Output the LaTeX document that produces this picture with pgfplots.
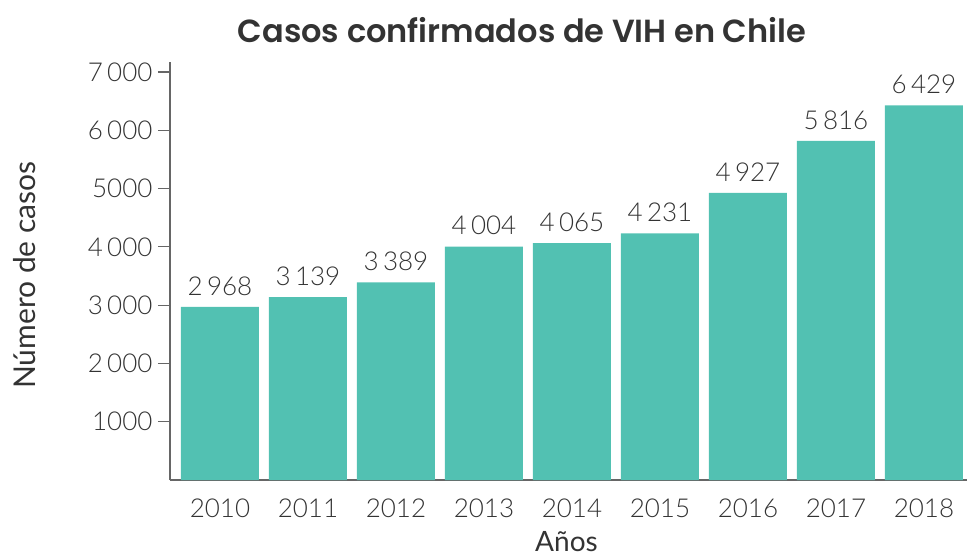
\documentclass[border=0pt]{standalone}
\usepackage{fontspec}
\setmainfont{Lato Light}
\newfontfamily\titlefont{Poppins SemiBold}
\newfontfamily\labelfont{Lato}
\usepackage{pgfplots}
\pgfplotsset{compat=1.18}
\definecolor{barteal}{HTML}{52C1B2}
\definecolor{txt}{HTML}{333333}
\definecolor{axisgray}{HTML}{666666}

\begin{document}
\begin{tikzpicture}
\begin{axis}[
  scale only axis,
  width=797pt, height=418pt,
  xmin=-0.568, xmax=8.489,
  ymin=0, ymax=7171,
  axis lines*=left,
  axis line style={axisgray, line width=1.2pt},
  xtick={0,...,8},
  xticklabels={2010,2011,2012,2013,2014,2015,2016,2017,2018},
  major x tick style={draw=none},
  ytick={1000,2000,3000,4000,5000,6000,7000},
  yticklabels={1000,2\,000,3\,000,4\,000,5000,6\,000,7\,000},
  major y tick style={axisgray, line width=1.2pt},
  tick align=outside,
  major tick length=12pt,
  tick label style={font=\fontsize{26}{30}\selectfont, text=txt},
  xticklabel style={yshift=-3pt},
  yticklabel style={xshift=-2pt},
  /pgf/number format/assume math mode=true,
  clip=false,
]
\addplot[ybar, bar width=78pt, bar shift=0pt, fill=barteal, draw=none,
  nodes near coords,
  nodes near coords style={font=\fontsize{26}{30}\selectfont, text=txt,
    anchor=south, yshift=8pt,
    /pgf/number format/.cd, 1000 sep={\,}, assume math mode=true},
] coordinates {
  (0,2968) (1,3139) (2,3389) (3,4004) (4,4065)
  (5,4231) (6,4927) (7,5816) (8,6429)
};
\coordinate (sw) at (rel axis cs:0,0);
\coordinate (ne) at (rel axis cs:1,1);
\node[font=\titlefont\fontsize{32}{36}\selectfont, text=txt]
  at ([yshift=32pt]rel axis cs:0.4417,1) {Casos confirmados de VIH en Chile};
\node[font=\labelfont\fontsize{30}{34}\selectfont, text=txt, rotate=90]
  at ([xshift=-145pt]rel axis cs:0,0.49) {Número de casos};
\node[font=\labelfont\fontsize{28}{32}\selectfont, text=txt, anchor=base,
  inner sep=0pt]
  at ([yshift=-71pt]rel axis cs:0.4975,0) {Años};
\end{axis}
\pgfresetboundingbox
\path[use as bounding box] ([xshift=-170pt,yshift=-77pt]sw) rectangle ([yshift=62pt]ne);
\end{tikzpicture}
\end{document}
